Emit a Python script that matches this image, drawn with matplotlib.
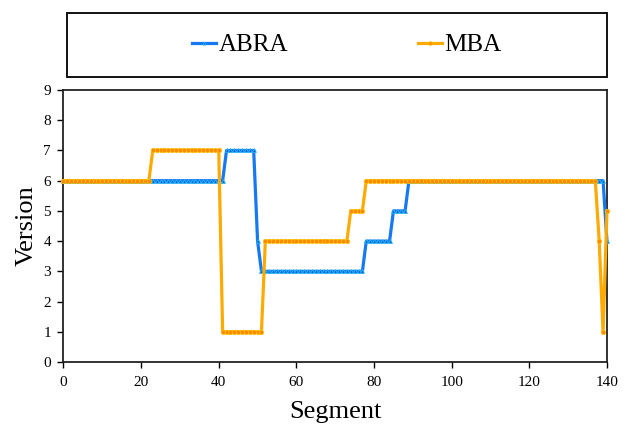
import matplotlib
matplotlib.use("Agg")
import matplotlib.pyplot as plt
from matplotlib.patches import Rectangle

segments = list(range(0, 141))

abra = [6, 6, 6, 6, 6, 6, 6, 6, 6, 6, 6, 6, 6, 6, 6, 6, 6, 6, 6, 6,
        6, 6, 6, 6, 6, 6, 6, 6, 6, 6, 6, 6, 6, 6, 6, 6, 6, 6, 6, 6,
        6, 6, 7, 7, 7, 7, 7, 7, 7, 7, 4, 3, 3, 3, 3, 3, 3, 3, 3, 3,
        3, 3, 3, 3, 3, 3, 3, 3, 3, 3, 3, 3, 3, 3, 3, 3, 3, 3, 4, 4,
        4, 4, 4, 4, 4, 5, 5, 5, 5, 6, 6, 6, 6, 6, 6, 6, 6, 6, 6, 6,
        6, 6, 6, 6, 6, 6, 6, 6, 6, 6, 6, 6, 6, 6, 6, 6, 6, 6, 6, 6,
        6, 6, 6, 6, 6, 6, 6, 6, 6, 6, 6, 6, 6, 6, 6, 6, 6, 6, 6, 6,
        4]

mba = [6, 6, 6, 6, 6, 6, 6, 6, 6, 6, 6, 6, 6, 6, 6, 6, 6, 6, 6, 6,
       6, 6, 6, 7, 7, 7, 7, 7, 7, 7, 7, 7, 7, 7, 7, 7, 7, 7, 7, 7,
       7, 1, 1, 1, 1, 1, 1, 1, 1, 1, 1, 1, 4, 4, 4, 4, 4, 4, 4, 4,
       4, 4, 4, 4, 4, 4, 4, 4, 4, 4, 4, 4, 4, 4, 5, 5, 5, 5, 6, 6,
       6, 6, 6, 6, 6, 6, 6, 6, 6, 6, 6, 6, 6, 6, 6, 6, 6, 6, 6, 6,
       6, 6, 6, 6, 6, 6, 6, 6, 6, 6, 6, 6, 6, 6, 6, 6, 6, 6, 6, 6,
       6, 6, 6, 6, 6, 6, 6, 6, 6, 6, 6, 6, 6, 6, 6, 6, 6, 6, 4, 1,
       5]

series_names = ["ABRA", "MBA"]
x_ticks = [0, 20, 40, 60, 80, 100, 120, 140]
y_ticks = [0, 1, 2, 3, 4, 5, 6, 7, 8, 9]

serif = ["Liberation Serif", "DejaVu Serif"]

fig = plt.figure(figsize=(6.31, 4.26), dpi=100)
ax = fig.add_axes([0.1006, 0.1502, 0.8613, 0.6385])

l1, = ax.plot(segments, abra, color="#1479F2", linewidth=2.3, marker="^",
              markersize=2.8, markerfacecolor="#0A5FD8", markeredgecolor="#29B6F6",
              markeredgewidth=0.6, label=series_names[0], clip_on=False, zorder=3)
l2, = ax.plot(segments, mba, color="#FFAA00", linewidth=2.3, marker="o",
              markersize=3.2, markerfacecolor="#FF8A00", markeredgecolor="#FFC000",
              markeredgewidth=0.5, label=series_names[1], clip_on=False, zorder=4)

ax.set_xlim(0, 140)
ax.set_ylim(0, 9)
ax.set_xticks(x_ticks)
ax.set_yticks(y_ticks)
ax.tick_params(direction="out", length=4, width=1.0, labelsize=11)
ax.tick_params(axis="x", pad=6)
ax.tick_params(axis="y", pad=5)
for lab in ax.get_xticklabels() + ax.get_yticklabels():
    lab.set_fontfamily(serif)
for sp in ax.spines.values():
    sp.set_linewidth(1.3)
    sp.set_color("#222222")

ax.set_xlabel("Segment", fontsize=19, fontfamily=serif, labelpad=9)
ax.set_ylabel("Version", fontsize=19, fontfamily=serif, labelpad=4)

# legend box
rect = Rectangle((0.106, 0.820), 0.8558, 0.1488, transform=fig.transFigure,
                 facecolor="white", edgecolor="#111111", linewidth=1.4)
fig.patches.append(rect)
leg = fig.legend(handles=[l1, l2], labels=series_names, loc="center",
                 bbox_to_anchor=(347 / 631, 1 - 45 / 426), ncol=2, frameon=False,
                 prop={"family": serif, "size": 18}, handlelength=0.95,
                 handletextpad=0.1, columnspacing=5.2, markerscale=0.8)

fig.savefig("out.png", dpi=100)
